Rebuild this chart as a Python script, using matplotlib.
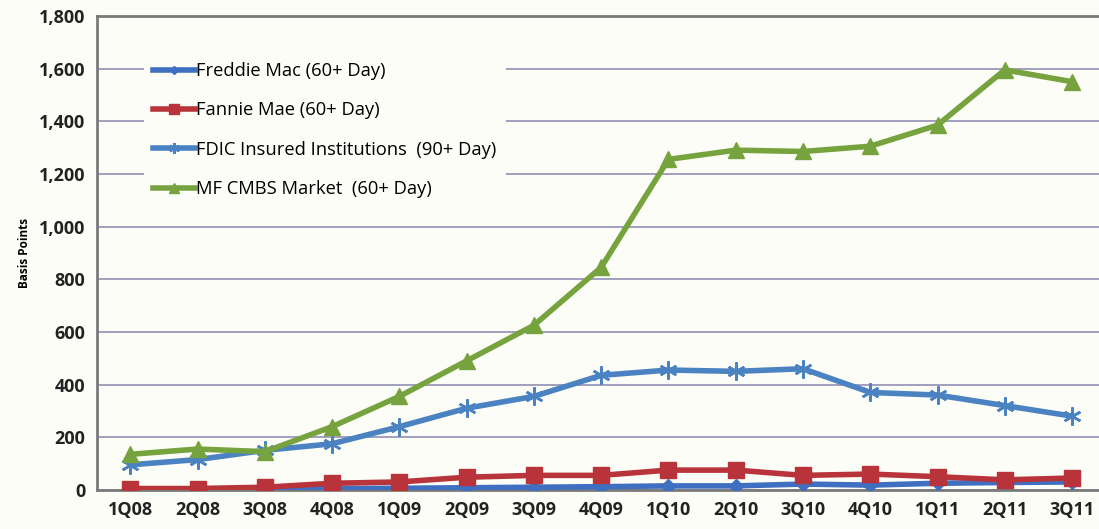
import matplotlib
matplotlib.use("Agg")
import matplotlib.pyplot as plt
from matplotlib.ticker import FuncFormatter

quarters = ["1Q08", "2Q08", "3Q08", "4Q08", "1Q09", "2Q09", "3Q09", "4Q09",
            "1Q10", "2Q10", "3Q10", "4Q10", "1Q11", "2Q11", "3Q11"]
freddie = [2, 2, 3, 5, 6, 8, 10, 12, 15, 15, 22, 18, 25, 28, 30]
fannie = [5, 5, 10, 25, 30, 48, 55, 55, 75, 75, 55, 60, 50, 38, 45]
fdic = [95, 115, 150, 175, 240, 310, 355, 435, 455, 450, 460, 370, 360, 320, 280]
cmbs = [135, 155, 145, 240, 355, 490, 625, 845, 1255, 1290, 1285, 1305, 1385, 1595, 1550]

labels = ["Freddie Mac (60+ Day)", "Fannie Mae (60+ Day)",
          "FDIC Insured Institutions  (90+ Day)", "MF CMBS Market  (60+ Day)"]
yticks = [0, 200, 400, 600, 800, 1000, 1200, 1400, 1600, 1800]

plt.rcParams['font.family'] = ['Open Sans', 'DejaVu Sans']
bg = "#fdfdf8"
fig = plt.figure(figsize=(10.99, 5.29), dpi=100, facecolor=bg)
ax = fig.add_axes([0.088, 0.074, 0.915, 0.896], facecolor=bg)

x = list(range(len(quarters)))
ax.plot(x, freddie, color="#3f6fc0", lw=4, marker="D", ms=7, label=labels[0], zorder=3)
ax.plot(x, fannie, color="#b8343a", lw=4, marker="s", ms=11, label=labels[1], zorder=4)
ax.plot(x, fdic, color="#4a82c2", lw=4, marker=(6, 2, 0), ms=13, mew=1.8,
        label=labels[2], zorder=3)
ax.plot(x, cmbs, color="#76a33e", lw=4, marker="^", ms=11, label=labels[3], zorder=3)

ax.set_xlim(-0.5, 14.45)
ax.set_ylim(0, 1800)
ax.set_yticks(yticks)
ax.yaxis.set_major_formatter(FuncFormatter(lambda v, p: f"{int(v):,}"))
ax.set_xticks(x)
ax.set_xticklabels(quarters)
ax.grid(axis="y", color="#8a86b0", lw=1.1)
ax.set_axisbelow(True)
ax.spines["right"].set_visible(False)
for s in ["left", "bottom", "top"]:
    ax.spines[s].set_color("#7a7a7a")
    ax.spines[s].set_linewidth(2)
ax.tick_params(length=0, pad=8, labelsize=13, colors="#222222")
for lab in ax.get_xticklabels() + ax.get_yticklabels():
    lab.set_fontweight("bold")
ax.set_ylabel("Basis Points", fontsize=8.5, fontweight="bold", labelpad=6)

leg = ax.legend(loc="upper left", bbox_to_anchor=(0.047, 0.922), frameon=True,
                fontsize=13.2, handlelength=2.3, labelspacing=1.17,
                handletextpad=0.05, borderaxespad=0, markerscale=0.6,
                borderpad=0.5, fancybox=False, framealpha=1)
leg.get_frame().set_facecolor(bg)
leg.get_frame().set_edgecolor("none")

fig.savefig("out.png", dpi=100, facecolor=bg)
